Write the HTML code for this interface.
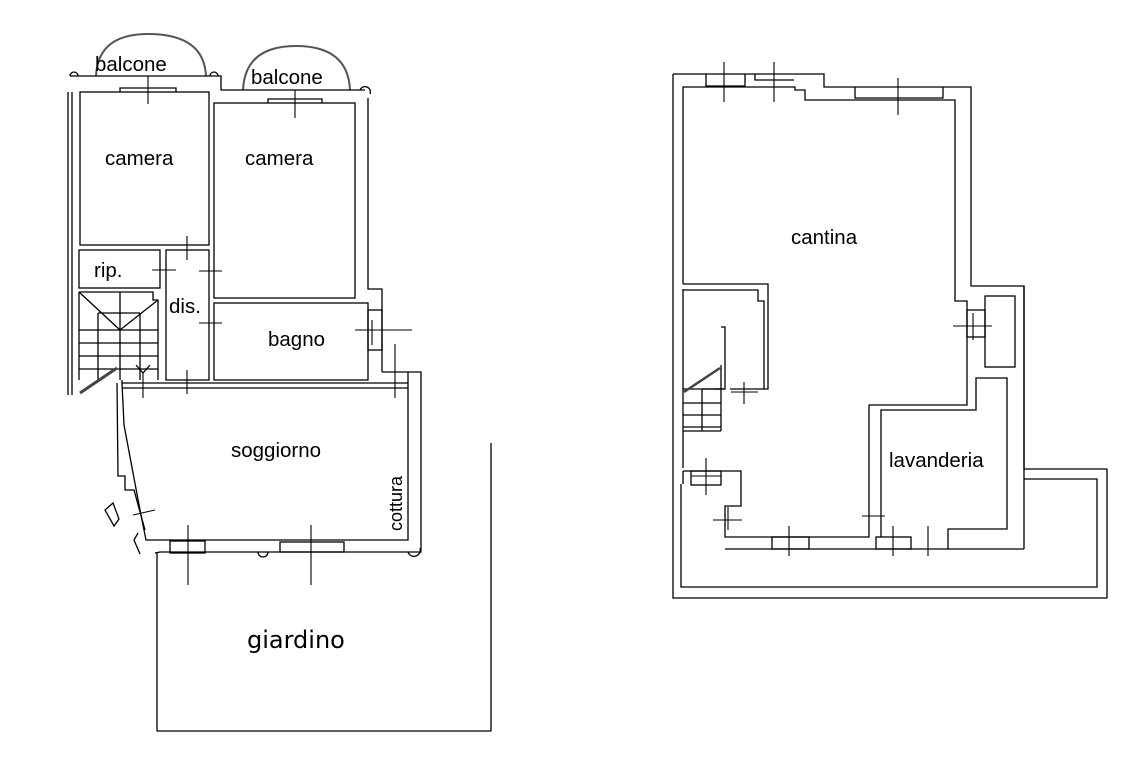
<!DOCTYPE html>
<html><head><meta charset="utf-8"><style>
html,body{margin:0;padding:0;background:#fff;}
svg{display:block}
text{font-family:"Liberation Sans",Arial,sans-serif;fill:#000}
</style></head><body>
<svg width="1141" height="766" viewBox="0 0 1141 766" xmlns="http://www.w3.org/2000/svg">
<g fill="none" stroke="#000" stroke-width="1.3">
<path d="M96 76 Q98 34 148 34 Q204 34 206 76" stroke="#555" stroke-width="2"/>
<path d="M243 90 Q245 46 296 46 Q348 46 350 90" stroke="#555" stroke-width="2"/>
<polyline points="70,76 215,76 221,76 221,90 365,90"/>
<path d="M70 76 a4 4 0 1 1 8 0"/><path d="M210 76 a4 4 0 1 1 8 0"/><path d="M360 90 a5 5 0 1 1 10 4"/>
<line x1="68" y1="92" x2="68" y2="395"/><line x1="72" y1="92" x2="72" y2="395"/>
<rect x="80" y="92" width="129" height="153"/>
<polyline points="120,92 120,88 176,88 176,92"/>
<rect x="214" y="103" width="141" height="195"/>
<polyline points="268,103 268,99 322,99 322,103"/>
<polyline points="368,98 368,289 382,289 382,372"/>
<rect x="79" y="250" width="81" height="38"/>
<rect x="166" y="250" width="43" height="130"/>
<polyline points="79,292 153,292 153,300 158,300 158,380"/>
<line x1="79" y1="292" x2="79" y2="380"/>
<line x1="79" y1="292" x2="120" y2="330"/><line x1="158" y1="300" x2="120" y2="330"/>
<line x1="120" y1="292" x2="120" y2="380"/>
<line x1="98" y1="313" x2="98" y2="380"/><line x1="140" y1="313" x2="140" y2="380"/>
<line x1="98" y1="313" x2="140" y2="313"/>
<line x1="79" y1="330" x2="158" y2="330"/><line x1="79" y1="343" x2="158" y2="343"/><line x1="79" y1="356" x2="158" y2="356"/><line x1="79" y1="369" x2="158" y2="369"/>
<line x1="80" y1="393" x2="117" y2="368" stroke-width="3" stroke="#444"/>
<path d="M136 365 l7 8 l7 -8"/>
<rect x="214" y="303" width="154" height="77"/>
<rect x="368" y="310" width="14" height="40"/>
<polyline points="122,380 122,383 408,383"/>
<line x1="122" y1="388" x2="408" y2="388"/>
<polyline points="382,372 408,372 408,540 153,540"/>
<polyline points="408,372 421,372 421,552 160,552 155,553"/>
<polyline points="122,383 124,425 140,510 146,540 153,540"/>
<polyline points="117,383 118,476 125,476 125,490 134,490 145,530"/>
<path d="M138 533 l-4 7 l6 14"/>
<path d="M105 510 l8 -7 l6 16 l-5 7 z"/>
<path d="M258 552 a5 5 0 0 0 10 0"/><path d="M408 552 a6 6 0 1 0 12 -4"/>
<rect x="170" y="541" width="35" height="12"/><rect x="280" y="542" width="64" height="10"/>
<polyline points="157,553 157,731 491,731 491,443"/>
<g stroke-width="1.1">
<line x1="148" y1="76" x2="148" y2="104"/><line x1="295" y1="90" x2="295" y2="118"/>
<line x1="187" y1="236" x2="187" y2="260"/><line x1="152" y1="270" x2="176" y2="270"/>
<line x1="199" y1="271" x2="222" y2="271"/><line x1="199" y1="323" x2="222" y2="323"/>
<line x1="355" y1="330" x2="412" y2="330"/><line x1="372" y1="320" x2="372" y2="345"/>
<line x1="395" y1="344" x2="395" y2="398"/>
<line x1="143" y1="372" x2="143" y2="398"/><line x1="187" y1="370" x2="187" y2="394"/>
<line x1="188" y1="525" x2="188" y2="585"/><line x1="311" y1="525" x2="311" y2="585"/>
<line x1="133" y1="515" x2="155" y2="510"/>
</g>

<polyline points="673,74 824,74 824,87 971,87 971,286 1024,286 1024,469 1107,469 1107,598 673,598 673,74"/>
<polyline points="683,284 683,87 795,87 795,90 805,90 805,100 955,100 955,301 967,301 967,405 869,405 869,537 725,537 725,506 741,506 741,471 683,471"/>
<polyline points="683,289 683,468"/>
<polyline points="683,284 768,284 768,389 730,389"/>
<polyline points="683,290 758,290 758,301 764,301 764,389"/>
<polyline points="721,327 725,327 725,389 714,389"/>
<line x1="683" y1="389" x2="725" y2="389"/>
<line x1="683" y1="403" x2="721" y2="403"/><line x1="683" y1="415" x2="721" y2="415"/><line x1="683" y1="427" x2="721" y2="427"/><line x1="683" y1="431" x2="721" y2="431"/>
<line x1="702" y1="389" x2="721" y2="389"/><line x1="702" y1="389" x2="702" y2="431"/>
<line x1="721" y1="365" x2="721" y2="431"/>
<line x1="684" y1="392" x2="720" y2="368" stroke-width="2.5" stroke="#444"/>
<polyline points="706,74 706,86 745,86 745,74"/><polyline points="755,74 755,80 794,80"/>
<polyline points="855,87 855,98 943,98 943,87"/>
<polyline points="881,537 881,410 976,410 976,378 1007,378 1007,529 948,529 948,549"/>
<polyline points="725,549 1024,549"/><line x1="1024" y1="286" x2="1024" y2="549"/>
<polyline points="681,484 681,587 1097,587 1097,479 1024,479"/>
<polyline points="683,471 683,484"/>
<rect x="985" y="296" width="30" height="71"/>
<rect x="967" y="310" width="18" height="27"/>
<rect x="772" y="537" width="37" height="12"/><rect x="876" y="537" width="35" height="12"/>
<rect x="691" y="471" width="30" height="14"/>
<g stroke-width="1.1">
<line x1="724" y1="62" x2="724" y2="102"/><line x1="774" y1="62" x2="774" y2="102"/>
<line x1="898" y1="78" x2="898" y2="115"/>
<line x1="953" y1="326" x2="992" y2="326"/><line x1="973" y1="313" x2="973" y2="340"/>
<line x1="744" y1="382" x2="744" y2="404"/><line x1="731" y1="392" x2="758" y2="392"/>
<line x1="706" y1="458" x2="706" y2="495"/><line x1="691" y1="476" x2="721" y2="476"/>
<line x1="713" y1="520" x2="742" y2="520"/><line x1="728" y1="507" x2="728" y2="530"/>
<line x1="789" y1="526" x2="789" y2="556"/><line x1="862" y1="516" x2="885" y2="516"/>
<line x1="893" y1="526" x2="893" y2="556"/><line x1="928" y1="526" x2="928" y2="556"/>
</g>
</g>
<g font-size="20.5">
<text x="95" y="71">balcone</text>
<text x="251" y="84">balcone</text>
<text x="105" y="165">camera</text>
<text x="245" y="165">camera</text>
<text x="94" y="277">rip.</text>
<text x="169" y="313">dis.</text>
<text x="268" y="346">bagno</text>
<text x="231" y="457">soggiorno</text>
<text x="791" y="244">cantina</text>
<text x="889" y="467">lavanderia</text>
</g>
<text x="0" y="0" font-size="18" transform="translate(402,531) rotate(-90)">cottura</text>
<text x="247" y="648" font-size="24" style="font-family:'DejaVu Sans',sans-serif">giardino</text>
</svg>
</body></html>
